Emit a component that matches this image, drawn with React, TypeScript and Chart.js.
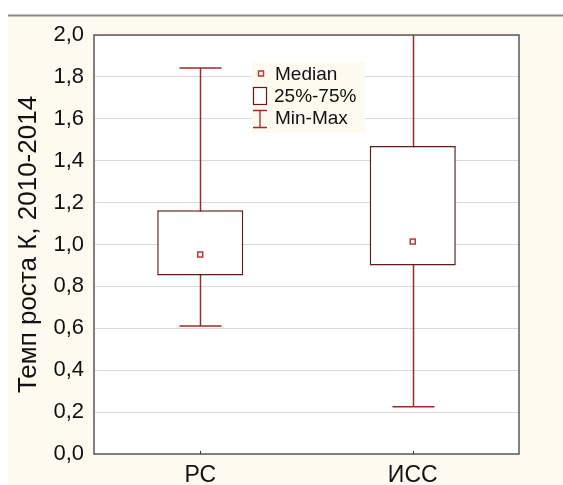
import React, { useEffect, useRef } from "react";
import { Chart, registerables } from "chart.js";

Chart.register(...registerables);

const categories = ["РС", "ИСС"];
const q1Values = [0.852, 0.9];
const q3Values = [1.163, 1.47];
const medianValues = [0.952, 1.014];
const minValues = [0.611, 0.225];
const maxValues = [1.842, 2.1];
const yTitle = "Темп роста К, 2010-2014";
const legendLabels = ["Median", "25%-75%", "Min-Max"];

const FONT = "'Liberation Sans', Arial, sans-serif";
const CREAM = "#fffaf0";
const BOX = "#5e1c1c";
const WHISKER = "#a1282b";
const MEDIAN = "#b23a3a";

const boxPlotPlugin = {
  id: "boxPlotPlugin",
  beforeDraw(chart: any) {
    const { ctx, width, height, chartArea } = chart;
    ctx.save();
    ctx.fillStyle = "#ffffff";
    ctx.fillRect(0, 0, width, height);
    ctx.fillStyle = CREAM;
    ctx.fillRect(8, 16, width - 8, height - 16);
    ctx.fillStyle = "#8a8a8a";
    ctx.fillRect(8, 14.5, width - 8, 2);
    ctx.fillStyle = "#ffffff";
    ctx.fillRect(chartArea.left, chartArea.top, chartArea.right - chartArea.left, chartArea.bottom - chartArea.top);
    ctx.restore();
  },
  beforeDatasetsDraw(chart: any) {
    const { ctx, chartArea, scales } = chart;
    const x = scales.x;
    const y = scales.y;
    ctx.save();
    ctx.beginPath();
    ctx.rect(chartArea.left, chartArea.top, chartArea.right - chartArea.left, chartArea.bottom - chartArea.top);
    ctx.clip();
    ctx.strokeStyle = WHISKER;
    ctx.lineWidth = 1.5;
    categories.forEach((_, i) => {
      const cx = Math.round(x.getPixelForValue(i)) + 0.5;
      const yMin = y.getPixelForValue(minValues[i]);
      const yMax = y.getPixelForValue(maxValues[i]);
      const capHalf = 21;
      ctx.beginPath();
      ctx.moveTo(cx, yMin);
      ctx.lineTo(cx, yMax);
      ctx.moveTo(cx - capHalf, yMin);
      ctx.lineTo(cx + capHalf, yMin);
      ctx.moveTo(cx - capHalf, yMax);
      ctx.lineTo(cx + capHalf, yMax);
      ctx.stroke();
    });
    ctx.restore();
  },
  afterDatasetsDraw(chart: any) {
    const { ctx, chartArea, scales } = chart;
    const x = scales.x;
    const y = scales.y;
    ctx.save();
    // medians
    ctx.strokeStyle = MEDIAN;
    ctx.lineWidth = 1.5;
    ctx.fillStyle = "#ffffff";
    categories.forEach((_, i) => {
      const cx = x.getPixelForValue(i);
      const cy = y.getPixelForValue(medianValues[i]);
      ctx.fillRect(cx - 2.5, cy - 2.5, 5, 5);
      ctx.strokeRect(cx - 2.5, cy - 2.5, 5, 5);
    });
    // plot border
    ctx.strokeStyle = "#5a5a5a";
    ctx.lineWidth = 1.5;
    ctx.strokeRect(chartArea.left, chartArea.top, chartArea.right - chartArea.left, chartArea.bottom - chartArea.top);
    // x tick marks (inside)
    ctx.strokeStyle = "#333";
    ctx.lineWidth = 1;
    categories.forEach((_, i) => {
      const cx = Math.round(x.getPixelForValue(i)) + 0.5;
      ctx.beginPath();
      ctx.moveTo(cx, chartArea.bottom);
      ctx.lineTo(cx, chartArea.bottom - 3);
      ctx.stroke();
    });
    // legend
    ctx.fillStyle = CREAM;
    ctx.fillRect(252, 62, 113, 71);
    // median marker
    ctx.strokeStyle = MEDIAN;
    ctx.lineWidth = 1.5;
    ctx.fillStyle = "#ffffff";
    ctx.fillRect(258.5, 71, 5, 5);
    ctx.strokeRect(258.5, 71, 5, 5);
    // box marker
    ctx.strokeStyle = BOX;
    ctx.lineWidth = 1.2;
    ctx.fillRect(253.5, 87.5, 13, 17);
    ctx.strokeRect(253.5, 87.5, 13, 17);
    // whisker marker
    ctx.strokeStyle = WHISKER;
    ctx.lineWidth = 1.3;
    ctx.beginPath();
    ctx.moveTo(253, 110.5);
    ctx.lineTo(267, 110.5);
    ctx.moveTo(260, 110.5);
    ctx.lineTo(260, 127.5);
    ctx.moveTo(253, 127.5);
    ctx.lineTo(267, 127.5);
    ctx.stroke();
    ctx.font = `19px ${FONT}`;
    ctx.textBaseline = "alphabetic";
    ctx.textAlign = "left";
    ctx.fillStyle = "#111111";
    ctx.fillText(legendLabels[0], 275, 80);
    ctx.fillText(legendLabels[1], 274, 102);
    ctx.fillText(legendLabels[2], 275, 123.5);
    ctx.restore();
  },
};

export default function App() {
  const canvasRef = useRef<HTMLCanvasElement | null>(null);

  useEffect(() => {
    if (!canvasRef.current) return;
    const chart = new Chart(canvasRef.current, {
      type: "bar",
      data: {
        labels: categories,
        datasets: [
          {
            data: categories.map((_, i) => [q1Values[i], q3Values[i]]) as any,
            backgroundColor: "#ffffff",
            borderColor: BOX,
            borderWidth: 1.5,
            borderSkipped: false,
            barPercentage: 0.405,
            categoryPercentage: 1,
          },
        ],
      },
      options: {
        responsive: false,
        animation: false,
        events: [],
        layout: { padding: { left: 0, right: 44, top: 35, bottom: 0 } },
        plugins: {
          legend: { display: false },
          tooltip: { enabled: false },
        },
        scales: {
          x: {
            type: "category",
            offset: true,
            grid: { display: false, drawTicks: false },
            border: { display: false },
            ticks: {
              color: "#111111",
              font: { family: FONT, size: 23 },
              padding: 8,
            },
            afterFit: (s: any) => {
              s.height = 31;
            },
          },
          y: {
            min: 0,
            max: 2,
            grid: { color: "#d9d9d9", lineWidth: 1, drawTicks: false },
            border: { display: false },
            ticks: {
              stepSize: 0.2,
              color: "#111111",
              font: { family: FONT, size: 22 },
              padding: 10,
              callback: (v: any) => Number(v).toFixed(1).replace(".", ","),
            },
            title: {
              display: true,
              text: yTitle,
              color: "#111111",
              font: { family: FONT, size: 26 },
              padding: { top: 13, bottom: 0 },
            },
            afterFit: (s: any) => {
              s.width = 94;
            },
          },
        },
      },
      plugins: [boxPlotPlugin],
    });
    return () => chart.destroy();
  }, []);

  return (
    <div style={{ position: "fixed", left: 0, top: 0, width: 563, height: 485 }}>
      <canvas ref={canvasRef} width={563} height={485} style={{ display: "block", width: 563, height: 485 }} />
    </div>
  );
}
